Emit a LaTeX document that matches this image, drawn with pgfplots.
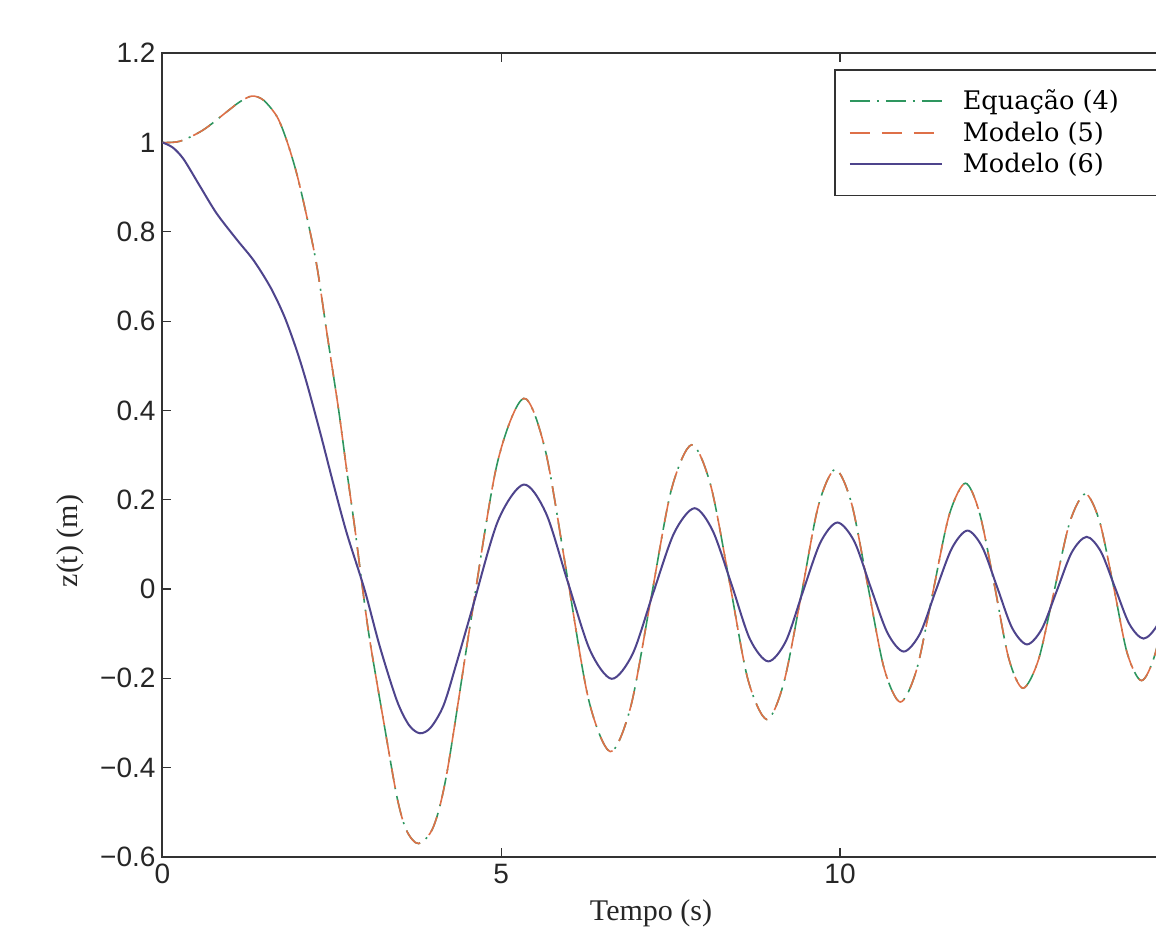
\documentclass[border=0pt]{standalone}
\usepackage{fontspec}
\setmainfont{Liberation Serif}
\newfontfamily\ticksans{Liberation Sans}
\newfontfamily\legserif{DejaVu Serif}
\usepackage{pgfplots}
\usepackage{pgfplotstable}
\pgfplotsset{compat=1.18}

\definecolor{eqgreen}{RGB}{46,150,95}
\definecolor{modorange}{RGB}{222,112,72}
\definecolor{modpurple}{RGB}{78,68,140}
\definecolor{axisgray}{RGB}{50,50,50}

% Equacao (4) and Modelo (5) lie on top of each other
\pgfplotstableread{
t z
0.00 1.000
0.26 1.003
0.60 1.028
0.95 1.069
1.14 1.091
1.32 1.104
1.49 1.095
1.69 1.058
1.83 1.006
1.98 0.931
2.13 0.834
2.28 0.722
2.43 0.570
2.60 0.401
2.72 0.265
2.84 0.135
2.95 0.005
3.06 -0.115
3.26 -0.293
3.46 -0.465
3.60 -0.540
3.78 -0.570
4.00 -0.532
4.20 -0.410
4.55 -0.072
4.94 0.281
5.33 0.427
5.65 0.311
5.97 0.032
6.29 -0.248
6.61 -0.364
6.91 -0.264
7.21 -0.021
7.51 0.222
7.81 0.323
8.09 0.233
8.37 0.015
8.64 -0.202
8.92 -0.292
9.17 -0.210
9.43 -0.012
9.68 0.186
9.93 0.268
10.17 0.192
10.41 0.008
10.65 -0.177
10.89 -0.253
11.13 -0.181
11.37 -0.008
11.61 0.165
11.85 0.237
12.06 0.170
12.28 0.008
12.49 -0.155
12.70 -0.222
12.93 -0.158
13.16 -0.005
13.39 0.149
13.62 0.213
13.83 0.152
14.04 0.004
14.24 -0.144
14.45 -0.205
14.65 -0.146
14.85 -0.003
15.05 0.141
15.25 0.200
}\modelcinco

\pgfplotstableread{
t z
0.00 1.000
0.15 0.989
0.31 0.963
0.55 0.903
0.80 0.841
1.10 0.782
1.35 0.735
1.60 0.674
1.80 0.610
1.98 0.535
2.13 0.461
2.33 0.349
2.52 0.237
2.72 0.125
2.98 0.000
3.21 -0.130
3.46 -0.250
3.64 -0.305
3.80 -0.323
3.96 -0.310
4.15 -0.260
4.34 -0.166
4.57 -0.045
4.95 0.152
5.33 0.234
5.66 0.170
5.98 0.017
6.31 -0.137
6.63 -0.201
6.94 -0.145
7.24 -0.010
7.55 0.125
7.85 0.181
8.12 0.131
8.40 0.010
8.67 -0.112
8.94 -0.162
9.20 -0.117
9.45 -0.007
9.71 0.104
9.96 0.149
10.21 0.107
10.45 0.005
10.70 -0.098
10.94 -0.140
11.18 -0.100
11.41 -0.005
11.65 0.091
11.88 0.131
12.10 0.094
12.32 0.004
12.54 -0.087
12.76 -0.124
12.98 -0.089
13.20 -0.004
13.42 0.082
13.64 0.117
13.85 0.084
14.06 0.003
14.27 -0.078
14.48 -0.111
14.69 -0.079
14.89 0.000
15.10 0.078
15.30 0.110
}\modeloseis

\begin{document}
\begin{tikzpicture}
\begin{axis}[
  scale only axis, width=508.1pt, height=401.85pt,
  xmin=0, xmax=15, ymin=-0.6, ymax=1.2,
  xtick={0,5,10,15}, xticklabels={0,5,10,{}},
  ytick={-0.6,-0.4,-0.2,0,0.2,0.4,0.6,0.8,1,1.2},
  yticklabels={−0.6,−0.4,−0.2,0,0.2,0.4,0.6,0.8,1,1.2},
  ticklabel style={font=\ticksans\fontsize{14}{16}\selectfont, text=black!85},
  tick align=inside, major tick length=4.5pt,
  axis line style={axisgray, line width=1pt},
  every tick/.style={axisgray, line width=0.6pt},
  xlabel={Tempo (s)}, ylabel={z(t) (m)},
  label style={font=\fontsize{15}{18}\selectfont, text=black!85},
  xlabel style={at={(rel axis cs:0.4807,-0.0795)}, anchor=base},
  ylabel style={at={(rel axis cs:-0.091,0.393)}, anchor=center},
  legend style={at={(0.6607,0.9803)}, anchor=north west, draw=axisgray, line width=0.8pt,
    font=\legserif\fontsize{12.8}{15}\selectfont, inner xsep=7pt, inner ysep=8pt, row sep=0.5pt,
    cells={anchor=west}},
  legend image code/.code={\draw[#1] (0pt,0pt) -- (46pt,0pt);},
]
\addplot[eqgreen, line width=0.8pt, smooth, dash pattern=on 10pt off 3.5pt on 1pt off 3.5pt] table[x=t, y=z] {\modelcinco};
\addlegendentry{\makebox[100pt][l]{\hspace*{8pt}Equação (4)}}
\addplot[modorange, line width=0.8pt, smooth, dash pattern=on 10pt off 6pt] table[x=t, y=z] {\modelcinco};
\addlegendentry{\makebox[100pt][l]{\hspace*{8pt}Modelo (5)}}
\addplot[modpurple, line width=1pt, smooth] table[x=t, y=z] {\modeloseis};
\addlegendentry{\makebox[100pt][l]{\hspace*{8pt}Modelo (6)}}
\coordinate (bbll) at (axis cs:-2.3985,-0.757);
\coordinate (bbur) at (axis cs:14.6642,1.3192);
\end{axis}
\pgfresetboundingbox
\path[use as bounding box] (bbll) rectangle (bbur);
\end{tikzpicture}
\end{document}
